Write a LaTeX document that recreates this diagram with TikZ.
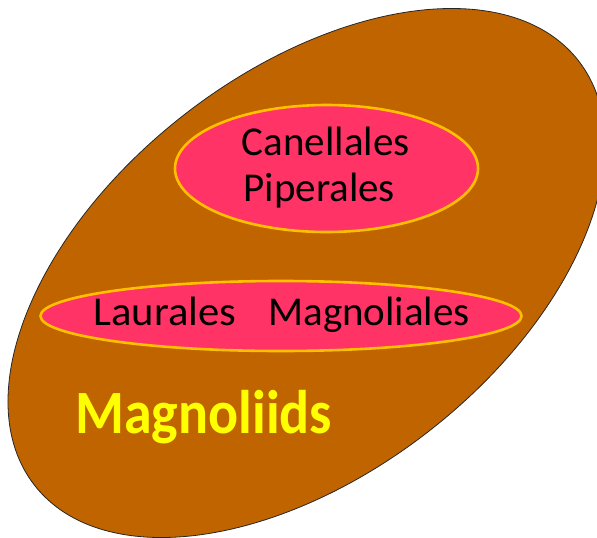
\documentclass[tikz,border=0pt]{standalone}
\usepackage{fontspec}
\usepackage{graphicx}
\setmainfont{Carlito}
\usetikzlibrary{shapes.geometric}
\definecolor{brownfill}{RGB}{192,100,0}
\definecolor{pinkfill}{RGB}{255,51,102}
\definecolor{goldline}{RGB}{255,192,0}
\definecolor{yellowtext}{RGB}{255,255,0}
\tikzset{
  outer/.style={draw=black!85, line width=0.8pt, fill=brownfill},
  inner/.style={ellipse, draw=goldline, line width=2.6pt, fill=pinkfill, inner sep=0pt},
  label/.style={inner sep=0pt, text=black, font=\fontsize{41}{46.7}\selectfont},
  title/.style={inner sep=0pt, text=yellowtext, font=\fontsize{56}{60}\selectfont\bfseries}
}
\begin{document}
\begin{tikzpicture}[x=1pt,y=-1pt]
\useasboundingbox (0,0) rectangle (597,538);
\clip (0,0) rectangle (597,538);
\draw[outer, shift={(306.5,273)}, rotate=38] (0,0) ellipse [x radius=345pt, y radius=200pt];
\node[inner, minimum width=303pt, minimum height=127pt] (upper) at (326.5,168.5) {};
\node[inner, minimum width=481pt, minimum height=70pt] (lower) at (281,316) {};
\node[label, anchor=base west] (canellales) at (241.7,155) {Canellales};
\node[label, anchor=base west] (piperales) at (243.3,201.7) {Piperales};
\node[label, anchor=base west] (laumag) at (93.3,325) {\scalebox{1.04}[1]{Laurales}\hspace{32pt}Magnoliales};
\node[title, anchor=base west] (magnoliids) at (75,433.3) {\scalebox{1}[1.1]{Magnoliids}};
\end{tikzpicture}
\end{document}
